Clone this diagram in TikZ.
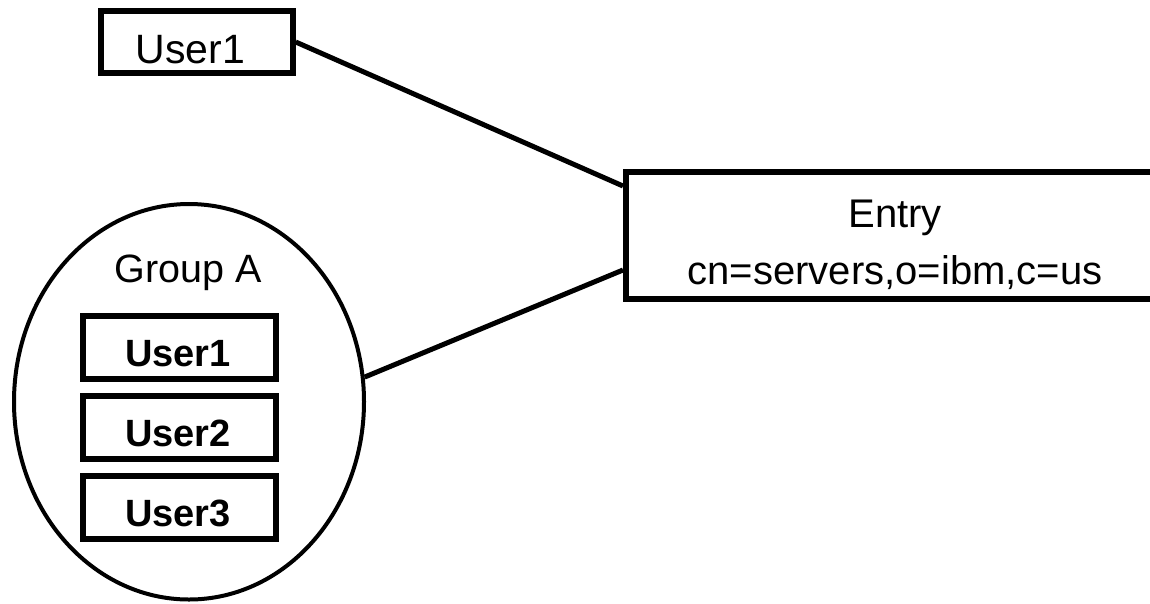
\documentclass[tikz,border=0pt]{standalone}
\usepackage{fontspec}
\setmainfont{Liberation Sans}
\usetikzlibrary{calc,shapes.geometric}

\tikzset{
  box/.style={draw=black, line width=6pt, rectangle, inner sep=0pt, fill=white},
  member/.style={box, minimum width=192.5pt, minimum height=63pt,
    font=\bfseries\fontsize{38}{44}\selectfont, text height=39pt, text depth=0pt},
  plain/.style={font=\fontsize{40}{46}\selectfont, inner sep=0pt},
  link/.style={draw=black, line width=5pt},
}

\begin{document}
\begin{tikzpicture}[x=1pt, y=-1pt]
  \useasboundingbox (0,0) rectangle (1150,603);
  \clip (0,0) rectangle (1150,603);

  % standalone user (label sits a little left of centre)
  \node[box, minimum width=191.5pt, minimum height=62.5pt,
        font=\fontsize{41}{46}\selectfont, text height=42pt, text depth=0pt]
        (user) at (197,42) {\kern-13pt User1};

  % group with its members
  \node[draw=black, line width=4pt, ellipse, minimum width=350pt,
        minimum height=395.5pt, inner sep=0pt] (grp) at (189,401.75) {};
  \node[plain, anchor=base, font=\fontsize{39.5}{46}\selectfont] (grpname) at (188,282) {Group A};
  \node[member] (m1) at (179.5,347.2) {\kern-3pt User1};
  \node[member] (m2) at (179.5,427) {\kern-3pt User2};
  \node[member] (m3) at (179.5,507) {\kern-3pt User3};

  % target entry
  \node[box, minimum width=538pt, minimum height=127pt] (entry) at (895,235.5) {};
  \node[plain, anchor=base] (entryname) at (895,227) {Entry};
  \node[plain, anchor=base] (entrydn) at (895,284) {cn=servers,o=ibm,c=us};

  % connectors
  \draw[link] (user.east) -- ([yshift=49.5pt]entry.west);
  \draw[link] (grp.8.7) -- ([yshift=-34.5pt]entry.west);
\end{tikzpicture}
\end{document}
